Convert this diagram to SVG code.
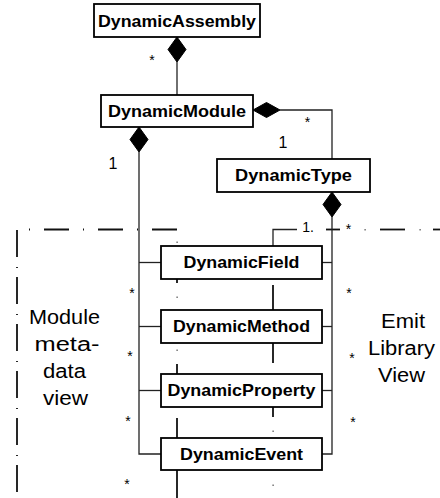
<svg xmlns="http://www.w3.org/2000/svg" width="440" height="498" viewBox="0 0 440 498">
  <style>
    .box { fill: #fff; stroke: #000; stroke-width: 1.8; }
    .name { font-family: "Liberation Sans", Arial, sans-serif; font-weight: bold; font-size: 16.5px; fill: #000; text-anchor: middle; }
    .view { font-family: "Liberation Sans", Arial, sans-serif; font-size: 20px; fill: #000; text-anchor: middle; }
    .mult { font-family: "Liberation Sans", Arial, sans-serif; font-size: 14px; fill: #000; text-anchor: middle; }
    .one { font-family: "Liberation Sans", Arial, sans-serif; font-size: 16px; fill: #000; text-anchor: middle; }
    .wire { fill: none; stroke: #222; stroke-width: 1.3; }
    .diamond { fill: #000; stroke: #000; stroke-width: 1; }
    .frame { fill: none; stroke: #111; stroke-width: 1.8; }
    .dot { fill: #555; }
  </style>

  <!-- view boundaries (dash-dot) -->
  <g id="views">
    <line class="frame" x1="29" y1="229.5" x2="177" y2="229.5" stroke-dasharray="1 14 25 14"/>
    <line class="frame" x1="17" y1="230" x2="17" y2="498" stroke-dasharray="27 10 1 9"/>
    <line class="frame" x1="326" y1="229.5" x2="340" y2="229.5"/>
    <rect class="dot" x="364.5" y="229" width="1.2" height="1.5"/>
    <line class="frame" x1="380" y1="229.5" x2="405" y2="229.5"/>
    <rect class="dot" x="419.5" y="229" width="1.2" height="1.5"/>
    <line class="frame" x1="433" y1="229.5" x2="440" y2="229.5"/>
    <!-- inner boundary, left column -->
    <rect class="dot" x="176.5" y="241.5" width="1.2" height="1.5"/>
    <line class="frame" x1="177" y1="278" x2="177" y2="283"/>
    <rect class="dot" x="176.5" y="296.5" width="1.2" height="1.5"/>
    <rect class="dot" x="176.5" y="349.5" width="1.2" height="1.5"/>
    <line class="frame" x1="177" y1="364" x2="177" y2="374"/>
    <line class="frame" x1="177" y1="418" x2="177" y2="438"/>
    <line class="frame" x1="177" y1="470" x2="177" y2="498"/>
    <!-- inner boundary, right column -->
    <line class="frame" x1="273" y1="285" x2="273" y2="310"/>
    <line class="frame" x1="273" y1="343" x2="273" y2="363"/>
    <line class="frame" x1="273" y1="407" x2="273" y2="417"/>
    <rect class="dot" x="272.5" y="430.5" width="1.2" height="1.5"/>
    <rect class="dot" x="272.5" y="484.5" width="1.2" height="1.5"/>
  </g>

  <!-- connectors -->
  <g id="connectors">
    <line class="wire" x1="177" y1="62" x2="177" y2="95"/>
    <polyline class="wire" points="280,110 332,110 332,159"/>
    <polyline class="wire" points="139,152 139,454 161,454"/>
    <line class="wire" x1="139" y1="262.5" x2="161" y2="262.5"/>
    <line class="wire" x1="139" y1="326.5" x2="161" y2="326.5"/>
    <line class="wire" x1="139" y1="390.5" x2="161" y2="390.5"/>
    <polyline class="wire" points="332,217 332,454 322,454"/>
    <line class="wire" x1="332" y1="262.5" x2="322" y2="262.5"/>
    <line class="wire" x1="332" y1="326.5" x2="322" y2="326.5"/>
    <line class="wire" x1="332" y1="390.5" x2="322" y2="390.5"/>
    <polyline class="wire" points="273,246 273,229.5 297,229.5"/>
    <!-- composition diamonds -->
    <polygon class="diamond" points="177,37 186,49.5 177,62 168,49.5"/>
    <polygon class="diamond" points="139,127 148,139.5 139,152 130,139.5"/>
    <polygon class="diamond" points="253,110 266.5,102.5 280,110 266.5,117.5"/>
    <polygon class="diamond" points="332,192 341,204.5 332,217 323,204.5"/>
    <!-- multiplicities -->
    <text class="mult" x="152" y="65">*</text>
    <text class="one" x="113" y="169">1</text>
    <text class="mult" x="307.5" y="127">*</text>
    <text class="one" x="283" y="148">1</text>
    <text class="mult" x="308" y="232">1.</text>
    <text class="mult" x="348.5" y="234">*</text>
    <text class="mult" x="132" y="297.5">*</text>
    <text class="mult" x="130" y="360.5">*</text>
    <text class="mult" x="128" y="425.5">*</text>
    <text class="mult" x="127" y="488.5">*</text>
    <text class="mult" x="349" y="298">*</text>
    <text class="mult" x="352" y="362.5">*</text>
    <text class="mult" x="353" y="427">*</text>
  </g>

  <!-- classes -->
  <g id="DynamicAssembly">
    <rect class="box" x="94" y="4" width="166" height="33"/>
    <text class="name" x="177" y="26.5" textLength="158" lengthAdjust="spacingAndGlyphs">DynamicAssembly</text>
  </g>
  <g id="DynamicModule">
    <rect class="box" x="101" y="95" width="152" height="32"/>
    <text class="name" x="177" y="117" textLength="138" lengthAdjust="spacingAndGlyphs">DynamicModule</text>
  </g>
  <g id="DynamicType">
    <rect class="box" x="217" y="159" width="153" height="33"/>
    <text class="name" x="293.5" y="181" textLength="117" lengthAdjust="spacingAndGlyphs">DynamicType</text>
  </g>
  <g id="DynamicField">
    <rect class="box" x="161" y="246" width="161" height="33"/>
    <text class="name" x="241.5" y="268" textLength="116" lengthAdjust="spacingAndGlyphs">DynamicField</text>
  </g>
  <g id="DynamicMethod">
    <rect class="box" x="161" y="310" width="161" height="33"/>
    <text class="name" x="241.5" y="332" textLength="137" lengthAdjust="spacingAndGlyphs">DynamicMethod</text>
  </g>
  <g id="DynamicProperty">
    <rect class="box" x="161" y="374" width="161" height="33"/>
    <text class="name" x="241.5" y="396" textLength="148" lengthAdjust="spacingAndGlyphs">DynamicProperty</text>
  </g>
  <g id="DynamicEvent">
    <rect class="box" x="161" y="438" width="161" height="32"/>
    <text class="name" x="241.5" y="460" textLength="123" lengthAdjust="spacingAndGlyphs">DynamicEvent</text>
  </g>

  <!-- view captions -->
  <g id="module-metadata-view">
    <text class="view" x="64.5" y="324" textLength="71" lengthAdjust="spacingAndGlyphs">Module</text>
    <text class="view" x="67" y="351" textLength="65" lengthAdjust="spacingAndGlyphs">meta-</text>
    <text class="view" x="64.5" y="378" textLength="43" lengthAdjust="spacingAndGlyphs">data</text>
    <text class="view" x="65.5" y="405" textLength="45" lengthAdjust="spacingAndGlyphs">view</text>
  </g>
  <g id="emit-library-view">
    <text class="view" x="403" y="328" textLength="44" lengthAdjust="spacingAndGlyphs">Emit</text>
    <text class="view" x="401.5" y="355" textLength="67" lengthAdjust="spacingAndGlyphs">Library</text>
    <text class="view" x="401.5" y="382" textLength="47" lengthAdjust="spacingAndGlyphs">View</text>
  </g>
</svg>
